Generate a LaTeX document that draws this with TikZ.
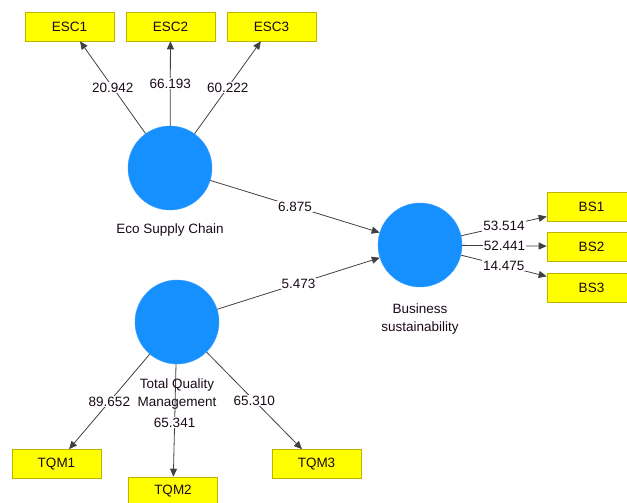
\documentclass[tikz,border=0pt]{standalone}
\usepackage{fontspec}
\setmainfont{Liberation Sans}
\usetikzlibrary{arrows.meta}

\definecolor{lvblue}{RGB}{22,144,255}
\definecolor{indyellow}{RGB}{255,255,0}
\definecolor{indborder}{RGB}{190,180,0}
\definecolor{inktext}{RGB}{25,10,25}

\begin{document}
\begin{tikzpicture}[
    x=1pt, y=-1pt,
    font=\fontsize{13.5}{18}\selectfont,
    text=inktext,
    >={Triangle[length=8pt,width=7pt]},
    latent/.style={circle, fill=lvblue, draw=lvblue!85!white,
                   minimum size=84pt, inner sep=0pt},
    ind/.style={draw=indborder, fill=indyellow, line width=0.6pt,
                minimum width=89pt, minimum height=29pt, inner sep=0pt},
    lnk/.style={->, draw=black!75, line width=0.8pt},
    coef/.style={fill=white, inner sep=1pt},
    lvname/.style={align=center, inner sep=0pt},
]

%% ---- canvas ----
\useasboundingbox (0,0) rectangle (627,503);
\clip (0,0) rectangle (627,503);

%% ---- Eco Supply Chain block ----
\node[ind] (esc1) at (69.5,26.5)  {ESC1};
\node[ind] (esc2) at (170.5,26.5) {ESC2};
\node[ind] (esc3) at (271.5,26.5) {ESC3};
\node[latent] (esc) at (170,168) {};
\node[lvname] (escname) at (170,230) {Eco Supply Chain};

%% ---- Business sustainability block ----
\node[latent] (bs) at (420,245) {};
\node[lvname] (bsname) at (420,319) {Business\\sustainability};
\node[ind] (bs1) at (591.5,206.5) {BS1};
\node[ind] (bs2) at (591.5,246.5) {BS2};
\node[ind] (bs3) at (591.5,287.5) {BS3};

%% ---- Total Quality Management block ----
\node[latent] (tqm) at (177,322) {};
\node[ind] (tqm1) at (56.5,464)  {TQM1};
\node[ind] (tqm2) at (173,491.5) {TQM2};
\node[ind] (tqm3) at (316.5,464) {TQM3};

%% ---- outer loadings ----
\draw[lnk] (esc) -- node[coef] {20.942} (esc1);
\draw[lnk] (esc) -- node[coef] {66.193} (esc2);
\draw[lnk] (esc) -- node[coef] {60.222} (esc3);

\draw[lnk] (bs) -- node[coef] {53.514} (bs1);
\draw[lnk] (bs) -- node[coef] {52.441} (bs2);
\draw[lnk] (bs) -- node[coef] {14.475} (bs3);

\draw[lnk] (tqm) -- node[coef] {89.652} (tqm1);
\draw[lnk] (tqm) -- node[coef, pos=0.52] {65.341} (tqm2);
\draw[lnk] (tqm) -- node[coef] {65.310} (tqm3);

%% ---- inner model ----
\draw[lnk] (esc) -- node[coef] {6.875} (bs);
\draw[lnk] (tqm) -- node[coef] {5.473} (bs);

\node[lvname] (tqmname) at (177,394) {Total Quality\\Management};

\end{tikzpicture}
\end{document}
